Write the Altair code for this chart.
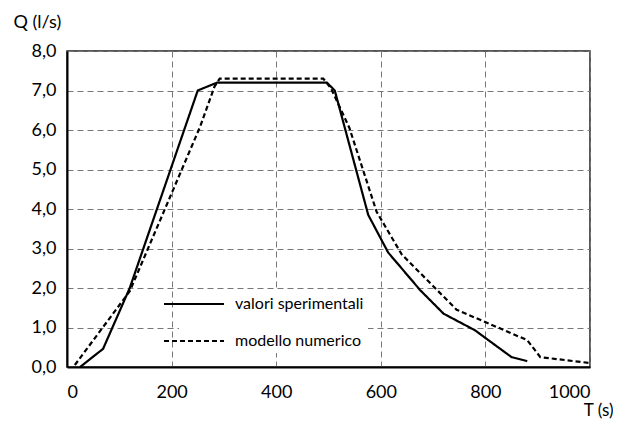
import altair as alt
import pandas as pd

# experimental values (solid)
solid_t = [25, 69, 120, 250, 287, 497, 512, 576, 614, 675, 720, 780, 850, 880]
solid_q = [0.0, 0.46, 2.0, 7.0, 7.2, 7.2, 7.0, 3.85, 2.9, 1.95, 1.35, 0.93, 0.25, 0.15]

# numerical model (dashed)
model_t = [15, 120, 205, 255, 282, 292, 490, 505, 540, 592, 640, 745, 880, 905, 1000]
model_q = [0.05, 1.92, 4.55, 6.1, 7.1, 7.3, 7.3, 7.05, 6.05, 3.93, 2.85, 1.45, 0.68, 0.25, 0.1]

series = ["valori sperimentali", "modello numerico"]
x_ticks = [0, 200, 400, 600, 800, 1000]
y_ticks = [0, 1, 2, 3, 4, 5, 6, 7, 8]

df = pd.concat([
    pd.DataFrame({"T": solid_t, "Q": solid_q, "serie": series[0], "o": range(len(solid_t))}),
    pd.DataFrame({"T": model_t, "Q": model_q, "serie": series[1], "o": range(len(model_t))}),
])

FONT = "Lato"

chart = alt.Chart(df).mark_line(color="black", strokeWidth=2.2).encode(
    x=alt.X("T:Q", scale=alt.Scale(domain=[0, 1000], nice=False),
            axis=alt.Axis(values=x_ticks, title="T (s)", labelFontSize=18,
                          labelExpr="format(datum.value, 'd')",
                          labelPadding=16, tickSize=0, domainColor="black",
                          domainWidth=2, grid=True, gridDash=[6, 4],
                          gridColor="#777", gridWidth=1,
                          titleFontSize=17, titleFontWeight="normal",
                          titleX=546, titleY=48, titleAlign="right",
                          titleBaseline="alphabetic", titleFont=FONT,
                          labelFont=FONT, labelColor="black", titleColor="black")),
    y=alt.Y("Q:Q", scale=alt.Scale(domain=[0, 8], nice=False),
            axis=alt.Axis(values=y_ticks, title="Q (l/s)", labelFontSize=18,
                          labelPadding=11, tickSize=0, domainColor="black",
                          domainWidth=2, grid=True, gridDash=[6, 4],
                          gridColor="#777", gridWidth=1,
                          labelExpr="replace(format(datum.value, '.1f'), '.', ',')",
                          titleAngle=0, titleFontSize=18, titleFontWeight="normal",
                          titleX=-54, titleY=-24, titleAlign="left",
                          titleBaseline="alphabetic", titleFont=FONT,
                          labelFont=FONT, labelColor="black", titleColor="black")),
    strokeDash=alt.StrokeDash("serie:N",
                              scale=alt.Scale(domain=series, range=[[1, 0], [5, 3]]),
                              legend=alt.Legend(title=None, orient="none",
                                                legendX=112, legendY=238,
                                                symbolType="M-3,0H3",
                                                symbolSize=400,
                                                symbolStrokeWidth=2,
                                                symbolStrokeColor="black",
                                                labelFontSize=16, labelFont=FONT,
                                                labelColor="black",
                                                labelOffset=30,
                                                fillColor="white",
                                                padding=4, rowPadding=18)),
    order="o:Q",
).properties(
    width=523, height=316,
    autosize=alt.AutoSizeParams(type="none"),
    padding={"left": 59, "top": 43, "right": 23, "bottom": 52},
).configure_view(stroke="#222", strokeWidth=1.5)

chart.save("out.html", embed_options={"renderer": "svg", "actions": False})
